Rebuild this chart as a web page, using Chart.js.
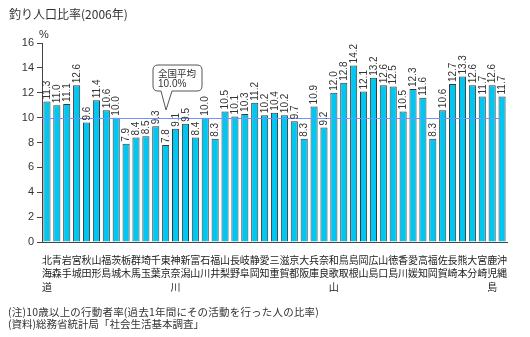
<!DOCTYPE html>
<html>
<head>
<meta charset="utf-8">
<script src="https://cdn.jsdelivr.net/npm/chart.js@4.4.1/dist/chart.umd.min.js"></script>
<style>
  body { margin: 0; background: #fff; }
  #wrap { position: relative; width: 530px; height: 337px; font-family: "Noto Sans CJK JP", sans-serif; color: #333; }
  #chart { position: absolute; left: 0; top: 0; }
  .txt { position: absolute; white-space: nowrap; line-height: 12px; }
</style>
</head>
<body>
<div id="wrap">
  <canvas id="chart" width="530" height="337"></canvas>
  <div class="txt" style="left:9px;top:8px;font-size:12px;">釣り人口比率(2006年)</div>
  <div class="txt" style="left:39px;top:28px;font-size:11px;font-family:'Liberation Sans',sans-serif;">%</div>
  <div class="txt" style="left:8px;top:306px;font-size:10.5px;letter-spacing:0.2px;">(注)10歳以上の行動者率(過去1年間にその活動を行った人の比率)</div>
  <div class="txt" style="left:8px;top:318px;font-size:10.5px;">(資料)総務省統計局「社会生活基本調査」</div>
</div>
<script>
// prefectures (2006)
const prefectures = [
  '北海道', '青森', '岩手', '宮城', '秋田', '山形', '福島', '茨城', '栃木', '群馬',
  '埼玉', '千葉', '東京', '神奈川', '新潟', '富山', '石川', '福井', '山梨', '長野',
  '岐阜', '静岡', '愛知', '三重', '滋賀', '京都', '大阪', '兵庫', '奈良', '和歌山',
  '鳥取', '島根', '岡山', '広島', '山口', '徳島', '香川', '愛媛', '高知', '福岡',
  '佐賀', '長崎', '熊本', '大分', '宮崎', '鹿児島', '沖縄'
];
const fishingRate = [
  11.3, 11.0, 11.1, 12.6, 9.6, 11.4, 10.6, 10.0, 7.9, 8.4,
  8.5, 9.3, 7.8, 9.1, 9.5, 8.4, 10.0, 8.3, 10.5, 10.1,
  10.3, 11.2, 10.2, 10.4, 10.2, 9.7, 8.3, 10.9, 9.2, 12.0,
  12.8, 14.2, 12.1, 13.2, 12.6, 12.5, 10.5, 12.3, 11.6, 8.3,
  10.6, 12.7, 13.3, 12.6, 11.7, 12.6, 11.7
];
const nationalAvg = 10.0;
const yTicks = [0, 2, 4, 6, 8, 10, 12, 14, 16];

// labels stacked vertically, one character per line
const labels = prefectures.map(p => p.split(''));

const overlay = {
    id: 'overlay',
    afterDatasetsDraw(chart) {
        const ctx = chart.ctx;
        const y = chart.scales.y;
        const bars = chart.getDatasetMeta(0).data;

        // national average line
        const ya = Math.round(y.getPixelForValue(nationalAvg)) + 0.5;
        ctx.save();
        ctx.strokeStyle = '#6f94ff';
        ctx.lineWidth = 1;
        ctx.beginPath();
        ctx.moveTo(chart.chartArea.left, ya);
        ctx.lineTo(bars[bars.length - 1].x, ya);
        ctx.stroke();

        // value labels, rotated
        ctx.fillStyle = '#333';
        ctx.font = '10px "Liberation Sans", Arial, sans-serif';
        ctx.textAlign = 'left';
        ctx.textBaseline = 'middle';
        bars.forEach((b, i) => {
            ctx.save();
            ctx.translate(b.x, b.y - 2);
            ctx.rotate(-Math.PI / 2);
            ctx.fillText(fishingRate[i].toFixed(1), 0, 0.5);
            ctx.restore();
        });

        // callout
        const tipX = 166, tipY = 110;
        const bx = 153, by = 65, bw = 49, bh = 26, r = 5;
        ctx.beginPath();
        ctx.moveTo(bx + r, by);
        ctx.lineTo(bx + bw - r, by);
        ctx.quadraticCurveTo(bx + bw, by, bx + bw, by + r);
        ctx.lineTo(bx + bw, by + bh - r);
        ctx.quadraticCurveTo(bx + bw, by + bh, bx + bw - r, by + bh);
        ctx.lineTo(172, by + bh);
        ctx.lineTo(tipX, tipY);
        ctx.lineTo(161, by + bh);
        ctx.lineTo(bx + r, by + bh);
        ctx.quadraticCurveTo(bx, by + bh, bx, by + bh - r);
        ctx.lineTo(bx, by + r);
        ctx.quadraticCurveTo(bx, by, bx + r, by);
        ctx.closePath();
        ctx.fillStyle = '#fff';
        ctx.fill();
        ctx.strokeStyle = '#555';
        ctx.stroke();
        ctx.fillStyle = '#333';
        ctx.textBaseline = 'middle';
        ctx.font = '9.5px "Noto Sans CJK JP", sans-serif';
        ctx.fillText('全国平均', bx + 5, by + 8);
        ctx.font = '10px "Liberation Sans", Arial, sans-serif';
        ctx.fillText(nationalAvg.toFixed(1) + '%', bx + 5, by + 19);
        ctx.restore();
    }
};

new Chart(document.getElementById('chart'), {
    type: 'bar',
    data: {
        labels: labels,
        datasets: [{
            data: fishingRate,
            backgroundColor: '#00c6f2',
            borderColor: '#3a3a3a',
            borderWidth: 1,
            barPercentage: 0.72,
            categoryPercentage: 1.0
        }]
    },
    options: {
        responsive: false,
        animation: false,
        layout: { padding: { left: 0, right: 23, top: 43, bottom: 0 } },
        plugins: {
            legend: { display: false },
            tooltip: { enabled: false }
        },
        scales: {
            x: {
                grid: { display: false },
                border: { color: '#444', width: 1 },
                ticks: {
                    autoSkip: false,
                    maxRotation: 0,
                    minRotation: 0,
                    padding: 3,
                    color: '#222',
                    font: { family: '"Noto Sans CJK JP", sans-serif', size: 10, lineHeight: 1.35 }
                },
                afterFit(scale) { scale.height = 95; }
            },
            y: {
                min: 0,
                max: 16,
                afterBuildTicks(scale) { scale.ticks = yTicks.map(v => ({ value: v })); },
                grid: { drawOnChartArea: false, tickLength: 5, color: '#444' },
                border: { color: '#444', width: 1 },
                ticks: {
                    padding: 3,
                    color: '#333',
                    font: { family: '"Liberation Sans", Arial, sans-serif', size: 11 }
                },
                afterFit(scale) { scale.width = 42; }
            }
        }
    },
    plugins: [overlay]
});
</script>
</body>
</html>
